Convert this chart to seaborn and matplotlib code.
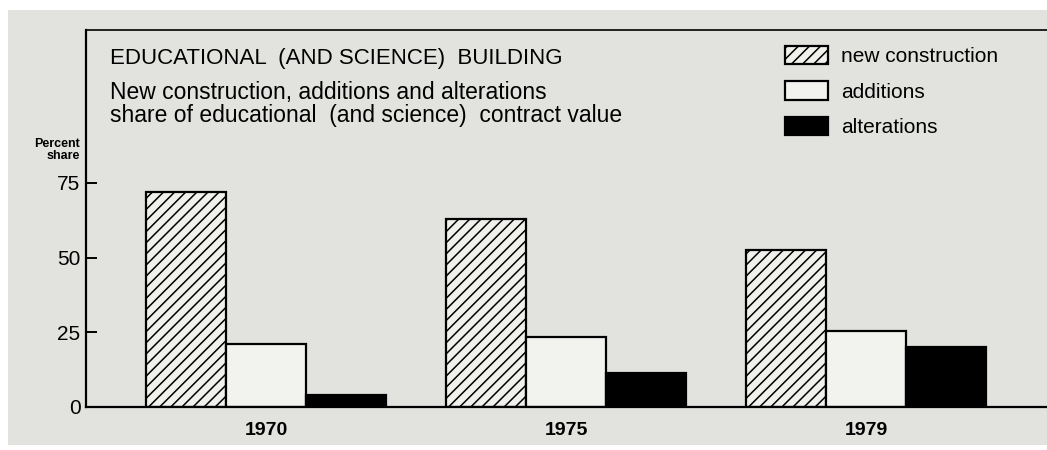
import pandas as pd
import seaborn as sns
import matplotlib.pyplot as plt
from matplotlib.patches import Rectangle

years = ["1970", "1975", "1979"]
new_construction = [72, 63, 52.5]
additions = [21, 23.5, 25.5]
alterations = [4, 11.5, 20]
series_names = ["new construction", "additions", "alterations"]
y_ticks = [0, 25, 50, 75]

rows = []
for name, vals in zip(series_names, [new_construction, additions, alterations]):
    for yr, v in zip(years, vals):
        rows.append({"year": yr, "share": v, "type": name})
df = pd.DataFrame(rows)

sns.set_theme(style="white")
plt.rcParams['font.family'] = ['Liberation Sans', 'DejaVu Sans']
plt.rcParams['hatch.linewidth'] = 1.1
plt.rcParams['text.color'] = 'black'
plt.rcParams['xtick.color'] = 'black'
plt.rcParams['ytick.color'] = 'black'

paper = "#e2e2df"
fig = plt.figure(figsize=(10.47, 4.5), dpi=100, facecolor="white")
fig.patches.append(Rectangle((0.008, 0.012), 0.992, 0.966, transform=fig.transFigure,
                             facecolor=paper, edgecolor="none", zorder=-10))
ax = fig.add_axes([86 / 1047, 43 / 450, 961 / 1047, 377 / 450])
ax.patch.set_alpha(0)

palette = {"new construction": "#f0f0ed", "additions": "#f2f2ef", "alterations": "black"}
sns.barplot(data=df, x="year", y="share", hue="type", order=years, hue_order=series_names,
            palette=palette, saturation=1, edgecolor="black", linewidth=1.6, width=0.8,
            legend=False, ax=ax)

# hatched fill for new construction
for bar in ax.containers[0]:
    bar.set_hatch("///")

ax.set_xlim(-0.6, 2.603)
ax.set_ylim(0, 126.2)
ax.set_yticks(y_ticks)
ax.tick_params(axis="y", direction="in", length=8, width=1.4, labelsize=15, pad=4, left=True)
ax.tick_params(axis="x", length=0, labelsize=14, pad=11)
for lab in ax.get_xticklabels():
    lab.set_fontweight("bold")
ax.set_xlabel("")
ax.set_ylabel("")

for side in ["left", "bottom"]:
    ax.spines[side].set_linewidth(1.6)
    ax.spines[side].set_color("black")
ax.spines["top"].set_linewidth(1.2)
ax.spines["top"].set_color("black")
ax.spines["right"].set_visible(False)

fig.text(110 / 1047, 1 - 64 / 450, "EDUCATIONAL  (AND SCIENCE)  BUILDING", fontsize=16, va="baseline")
fig.text(110 / 1047, 1 - 99 / 450, "New construction, additions and alterations", fontsize=16.5, va="baseline")
fig.text(110 / 1047, 1 - 122 / 450, "share of educational  (and science)  contract value", fontsize=16.5, va="baseline")
fig.text(80 / 1047, 1 - 147 / 450, "Percent", fontsize=9, fontweight="bold", ha="right", va="baseline")
fig.text(80 / 1047, 1 - 159 / 450, "share", fontsize=9, fontweight="bold", ha="right", va="baseline")

handles = [ax.containers[i][0] for i in range(3)]
ax.legend(handles, series_names, loc="upper left", bbox_to_anchor=(0.727, 0.958), frameon=False,
          fontsize=15, handlelength=2.1, handleheight=1.0, labelspacing=0.72, handletextpad=0.6,
          borderpad=0, borderaxespad=0)

fig.savefig("out.png", dpi=100, facecolor=fig.get_facecolor())
